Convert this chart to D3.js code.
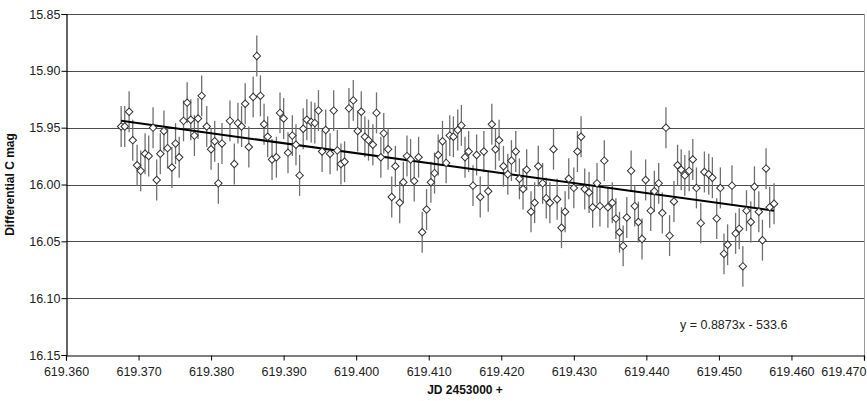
<!DOCTYPE html>
<html><head><meta charset="utf-8">
<script src="https://cdn.jsdelivr.net/npm/d3@7"></script>
<style>
html,body{margin:0;padding:0;background:#fff;}
svg{display:block;font-family:Arial,"Liberation Sans",sans-serif;}
</style></head>
<body>
<svg id="chart" width="867" height="401"></svg>
<script>
// JD offsets (619.xxxx)
const jd = [
619.3676,619.3681,619.3687,619.3692,619.3698,619.3703,619.3709,619.3714,619.3720,619.3725,
619.3730,619.3735,619.3740,619.3746,619.3751,619.3756,619.3762,619.3767,619.3772,619.3777,
619.3782,619.3787,619.3794,619.3800,619.3805,619.3810,619.3815,619.3826,619.3832,619.3837,
619.3842,619.3847,619.3852,619.3858,619.3863,619.3868,619.3873,619.3878,619.3884,619.3890,
619.3895,619.3900,619.3906,619.3912,619.3917,619.3922,619.3927,619.3932,619.3938,619.3943,
619.3948,619.3953,619.3958,619.3964,619.3969,619.3974,619.3979,619.3984,619.3990,619.3996,
619.4002,619.4007,619.4012,619.4017,619.4023,619.4028,619.4034,619.4038,619.4044,619.4049,
619.4054,619.4060,619.4065,619.4070,619.4075,619.4080,619.4086,619.4091,619.4097,619.4103,
619.4108,619.4113,619.4119,619.4124,619.4129,619.4134,619.4140,619.4145,619.4150,619.4155,
619.4161,619.4166,619.4171,619.4176,619.4182,619.4187,619.4192,619.4197,619.4203,619.4209,
619.4214,619.4220,619.4225,619.4230,619.4235,619.4241,619.4246,619.4251,619.4257,619.4262,
619.4267,619.4272,619.4277,619.4283,619.4288,619.4293,619.4300,619.4305,619.4310,619.4315,
619.4321,619.4326,619.4332,619.4336,619.4342,619.4347,619.4353,619.4358,619.4363,619.4368,
619.4373,619.4379,619.4384,619.4389,619.4394,619.4399,619.4406,619.4411,619.4417,619.4422,
619.4427,619.4432,619.4438,619.4443,619.4448,619.4453,619.4459,619.4464,619.4469,619.4475,
619.4480,619.4486,619.4491,619.4497,619.4502,619.4507,619.4512,619.4518,619.4523,619.4528,
619.4533,619.4538,619.4544,619.4549,619.4555,619.4560,619.4565,619.4570,619.4576
];
// Differential C magnitude
const mag = [
15.949,15.949,15.936,15.961,15.983,15.988,15.973,15.975,15.950,15.996,
15.973,15.953,15.968,15.985,15.964,15.976,15.944,15.928,15.943,15.957,
15.942,15.922,15.949,15.969,15.962,15.999,15.964,15.944,15.982,15.946,
15.949,15.929,15.967,15.923,15.887,15.922,15.947,15.958,15.978,15.976,
15.937,15.942,15.972,15.957,15.965,15.992,15.951,15.943,15.945,15.946,
15.935,15.971,15.952,15.973,15.935,15.970,15.982,15.980,15.933,15.926,
15.953,15.936,15.958,15.961,15.965,15.937,15.976,15.955,15.969,16.011,
15.984,16.016,15.998,15.975,15.978,15.997,15.976,16.042,16.022,15.998,
15.990,15.974,15.962,15.981,15.957,15.958,15.952,15.948,15.976,15.971,
16.001,15.974,16.011,15.971,16.006,15.947,15.969,15.961,15.984,15.991,
15.979,15.971,15.995,16.004,15.987,16.024,16.016,15.984,15.999,16.012,
16.016,15.969,16.013,16.038,16.024,15.995,16.003,15.971,15.958,16.004,
16.007,16.020,15.999,16.019,15.979,16.020,16.016,16.030,16.042,16.054,
16.029,15.988,16.019,16.033,16.048,15.996,16.023,16.006,15.999,16.025,
15.950,16.045,16.015,15.983,15.987,15.992,15.988,15.978,16.003,16.034,
15.989,15.991,15.994,16.030,16.003,16.061,16.053,16.001,16.043,16.039,
16.072,16.023,16.033,16.002,16.024,16.049,15.986,16.020,16.017
];
const magErr = 0.018;
// linear trend endpoints as drawn
const trendX = [619.3676, 619.4576];
const trendY = [15.944, 16.023];
const xTicks = [619.36,619.37,619.38,619.39,619.40,619.41,619.42,619.43,619.44,619.45,619.46,619.47];
const yTicks = [15.85,15.90,15.95,16.00,16.05,16.10,16.15];
const xTitle = "JD 2453000 +";
const yTitle = "Differential C mag";
const equation = "y = 0.8873x - 533.6";

const svg = d3.select("#chart");
const L = 66, R = 864, T = 14, B = 355;
const x = d3.scaleLinear().domain([619.36, 619.47]).range([L, R]);
const y = d3.scaleLinear().domain([15.85, 16.15]).range([T, B]);

// gridlines
svg.append("g").selectAll("line").data(yTicks.slice(0, -1)).join("line")
  .attr("x1", L).attr("x2", R)
  .attr("y1", d => Math.round(y(d)) + 0.5).attr("y2", d => Math.round(y(d)) + 0.5)
  .attr("stroke", "#4d4d4d").attr("stroke-width", 1);
// right border
svg.append("line").attr("x1", R + 0.5).attr("x2", R + 0.5).attr("y1", T).attr("y2", B)
  .attr("stroke", "#9a9a9a").attr("stroke-width", 1);

// axes
const xAxis = svg.append("g").attr("transform", `translate(0,${Math.round(B) + 0.5})`)
  .call(d3.axisBottom(x).tickValues(xTicks).tickFormat(d3.format(".3f")).tickSizeOuter(0).tickSize(5));
const yAxis = svg.append("g").attr("transform", `translate(${L + 0.5},0)`)
  .call(d3.axisLeft(y).tickValues(yTicks).tickFormat(d3.format(".2f")).tickSizeOuter(0).tickSize(5));
[xAxis, yAxis].forEach(g => {
  g.select(".domain").attr("stroke", "#000").attr("stroke-width", 1.2);
  g.selectAll(".tick line").attr("stroke", "#000");
  g.selectAll(".tick text").attr("font-family", "Arial, 'Liberation Sans', sans-serif")
    .attr("font-size", 12.5).attr("fill", "#222");
});
xAxis.selectAll(".tick text").attr("dy", "1.0em");
xAxis.selectAll(".tick").filter(d => d === xTicks[xTicks.length - 1])
  .select("text").attr("text-anchor", "end").attr("x", 2);
yAxis.selectAll(".tick text").attr("x", -6);

// error bars
const pts = jd.map((d, i) => ({ x: d, y: mag[i] }));
svg.append("g").selectAll("line").data(pts).join("line")
  .attr("x1", d => x(d.x)).attr("x2", d => x(d.x))
  .attr("y1", d => y(d.y - magErr)).attr("y2", d => y(d.y + magErr))
  .attr("stroke", "#707070").attr("stroke-width", 1.3);

// trend line
svg.append("path")
  .datum(trendX.map((d, i) => [d, trendY[i]]))
  .attr("d", d3.line().x(d => x(d[0])).y(d => y(d[1])))
  .attr("stroke", "#000").attr("stroke-width", 2).attr("fill", "none");

// markers
const sym = d3.symbol().type(d3.symbolSquare).size(28);
svg.append("g").selectAll("path").data(pts).join("path")
  .attr("d", sym)
  .attr("transform", d => `translate(${x(d.x)},${y(d.y)}) rotate(45)`)
  .attr("fill", "#fff").attr("stroke", "#333").attr("stroke-width", 1);

// titles
svg.append("text").attr("x", (L + R) / 2).attr("y", 394).attr("text-anchor", "middle")
  .attr("font-weight", "bold").attr("font-size", 12).attr("fill", "#111").text(xTitle);
svg.append("text").attr("transform", `translate(14,${(T + B) / 2}) rotate(-90)`)
  .attr("text-anchor", "middle").attr("font-weight", "bold").attr("font-size", 12)
  .attr("fill", "#111").text(yTitle);
svg.append("text").attr("x", 680).attr("y", 329).attr("font-size", 12.5)
  .attr("fill", "#222").text(equation);
</script>
</body></html>
